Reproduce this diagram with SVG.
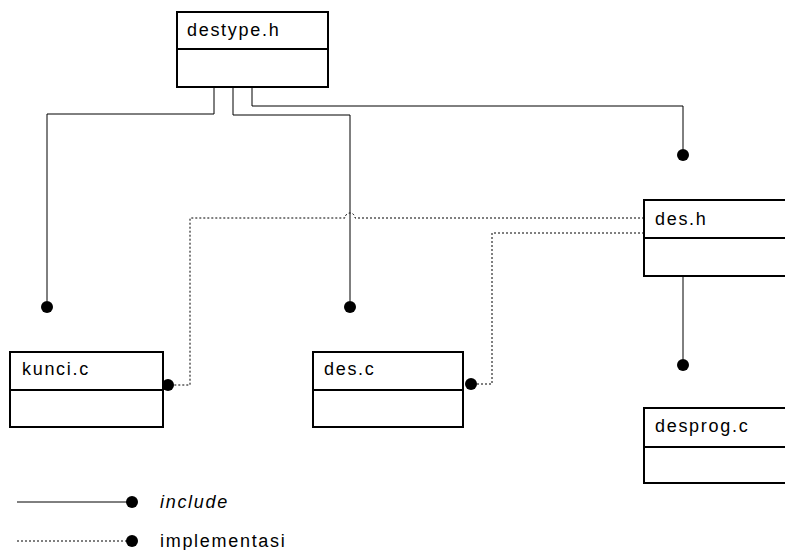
<svg xmlns="http://www.w3.org/2000/svg" width="785" height="550" viewBox="0 0 785 550">
<defs>
<style>
.box{fill:#fff;stroke:#000;stroke-width:2}
.div{stroke:#000;stroke-width:2}
.lbl{font-family:"Liberation Sans",Arial,sans-serif;font-size:18px;letter-spacing:1.7px;fill:#000}
.inc{fill:none;stroke:#000;stroke-width:1}
.imp{fill:none;stroke:#000;stroke-width:1;stroke-dasharray:2,2}
.dot{fill:#000}
</style>
</defs>
<rect width="785" height="550" fill="#fff"/>
<g id="connectors">
<path class="inc" d="M214,87 V114 H47 V301"/>
<circle class="dot" cx="47" cy="307" r="6"/>
<path class="inc" d="M233,87 V115 H350 V301"/>
<circle class="dot" cx="350" cy="307" r="6"/>
<path class="inc" d="M252,87 V106 H683 V149"/>
<circle class="dot" cx="683" cy="155" r="6"/>
<path class="inc" d="M683,276 V359"/>
<circle class="dot" cx="683" cy="365" r="6"/>
<path class="imp" d="M644,218 H355 A5,5 0 0 0 345,218 H190 V385 H174"/>
<circle class="dot" cx="168" cy="385" r="6"/>
<path class="imp" d="M644,233 H492 V384 H477"/>
<circle class="dot" cx="471" cy="384" r="6"/>
</g>
<g id="destype_h">
<rect class="box" x="177" y="12" width="151" height="75"/>
<line class="div" x1="177" y1="49" x2="328" y2="49"/>
<text class="lbl" x="187" y="36">destype.h</text>
</g>
<g id="des_h">
<rect class="box" x="644" y="200" width="200" height="76"/>
<line class="div" x1="644" y1="238" x2="844" y2="238"/>
<text class="lbl" x="655" y="225">des.h</text>
</g>
<g id="kunci_c">
<rect class="box" x="10" y="352" width="153" height="75"/>
<line class="div" x1="10" y1="390" x2="163" y2="390"/>
<text class="lbl" x="22" y="375">kunci.c</text>
</g>
<g id="des_c">
<rect class="box" x="313" y="352" width="150" height="75"/>
<line class="div" x1="313" y1="390" x2="463" y2="390"/>
<text class="lbl" x="324" y="375">des.c</text>
</g>
<g id="desprog_c">
<rect class="box" x="644" y="408" width="200" height="75"/>
<line class="div" x1="644" y1="447" x2="844" y2="447"/>
<text class="lbl" x="655" y="432">desprog.c</text>
</g>
<g id="legend">
<line class="inc" x1="17" y1="502" x2="128" y2="502"/>
<circle class="dot" cx="132" cy="502" r="6"/>
<text class="lbl" x="160" y="508" font-style="italic">include</text>
<line class="imp" x1="17" y1="541" x2="128" y2="541"/>
<circle class="dot" cx="132" cy="541" r="6"/>
<text class="lbl" x="160" y="547">implementasi</text>
</g>
</svg>
